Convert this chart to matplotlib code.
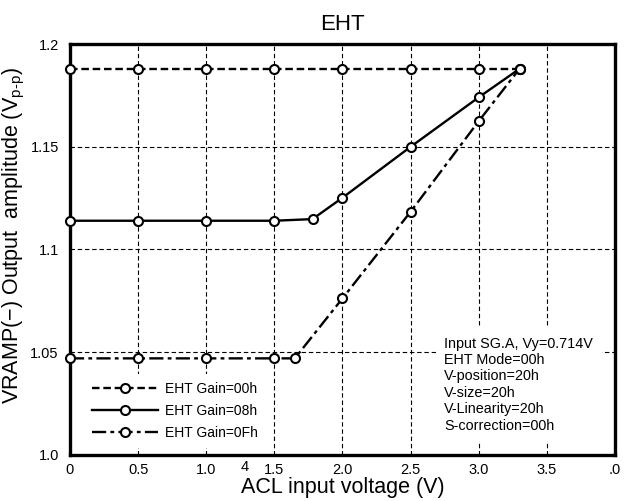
import matplotlib
matplotlib.use('Agg')
import matplotlib.pyplot as plt
import matplotlib.transforms as mtransforms

plt.rcParams['font.family'] = ['Liberation Sans', 'DejaVu Sans']
plt.rcParams['mathtext.fontset'] = 'custom'
plt.rcParams['mathtext.rm'] = 'Liberation Sans'

# EHT Gain=00h
x_00 = [0, 0.5, 1.0, 1.5, 2.0, 2.5, 3.0, 3.3]
y_00 = [1.188, 1.188, 1.188, 1.188, 1.188, 1.188, 1.188, 1.188]

# EHT Gain=08h
x_08 = [0, 0.5, 1.0, 1.5, 1.78, 2.0, 2.5, 3.0, 3.3]
y_08 = [1.114, 1.114, 1.114, 1.114, 1.1148, 1.1252, 1.150, 1.1741, 1.188]

# EHT Gain=0Fh
x_0f = [0, 0.5, 1.0, 1.5, 1.65, 2.0, 2.5, 3.0, 3.3]
y_0f = [1.047, 1.047, 1.047, 1.047, 1.047, 1.0762, 1.1184, 1.1625, 1.188]

xticks = [0, 0.5, 1.0, 1.5, 2.0, 2.5, 3.0, 3.5, 4.0]
xticklabels = ['0', '0.5', '1.0', '1.5', '2.0', '2.5', '3.0', '3.5', '.0']
yticks = [1.0, 1.05, 1.1, 1.15, 1.2]
yticklabels = ['1.0', '1.05', '1.1', '1.15', '1.2']

note = ('Input SG.A, Vy=0.714V\n'
        'EHT Mode=00h\n'
        'V-position=20h\n'
        'V-size=20h\n'
        'V-Linearity=20h\n'
        'S-correction=00h')

fig = plt.figure(figsize=(6.36, 5.01), dpi=100)
ax = fig.add_axes([0.110, 0.092, 0.857, 0.820])

mk = dict(marker='o', markersize=6.5, markerfacecolor='white',
          markeredgecolor='black', markeredgewidth=1.5,
          color='black', linewidth=1.7, clip_on=False, zorder=5)

ax.plot(x_00, y_00, dashes=(3.2, 1.6), label='EHT Gain=00h', **mk)
ax.plot(x_08, y_08, linestyle='-', label='EHT Gain=08h', **mk)
ax.plot(x_0f, y_0f, dashes=(6, 1.8, 1.6, 1.8), label='EHT Gain=0Fh', **mk)

ax.set_xlim(0, 4.0)
ax.set_ylim(1.0, 1.2)
ax.set_xticks(xticks)
ax.set_xticklabels(xticklabels)
ax.set_yticks(yticks)
ax.set_yticklabels(yticklabels)
ax.tick_params(length=0, labelsize=10.5)
ax.tick_params(axis='x', pad=6)
ax.tick_params(axis='y', pad=8)

ax.grid(True, color='black', linestyle=(0, (4, 2.5)), linewidth=0.8)
ax.set_axisbelow(True)
for s in ax.spines.values():
    s.set_linewidth(2.4)

# stray label under the axis
trans = mtransforms.blended_transform_factory(ax.transData, ax.transAxes)
ax.text(1.28, -0.029, '4', transform=trans, ha='center', va='center',
        fontsize=10.5)

ax.set_title('EHT', fontsize=16, pad=10)
ax.set_xlabel('ACL input voltage (V)', fontsize=15.5, labelpad=0)
ax.set_ylabel(r'VRAMP(−) Output  amplitude (V$\mathregular{_{p\text{-}p}}$)',
              fontsize=15.5)
ax.yaxis.set_label_coords(-0.079, 0.535)

leg = ax.legend(loc='lower left', bbox_to_anchor=(0.012, 0.0),
                frameon=True, fontsize=10, handlelength=4.8,
                handletextpad=0.5, labelspacing=0.55, numpoints=1,
                borderpad=0.6, fancybox=False)
leg.get_frame().set_facecolor('white')
leg.get_frame().set_edgecolor('none')
leg.get_frame().set_alpha(1)

ax.text(0.687, 0.288, note, transform=ax.transAxes, ha='left', va='top',
        fontsize=10.4, linespacing=1.22, zorder=4,
        bbox=dict(facecolor='white', edgecolor='none', pad=6))

fig.savefig('out.png', dpi=100)
